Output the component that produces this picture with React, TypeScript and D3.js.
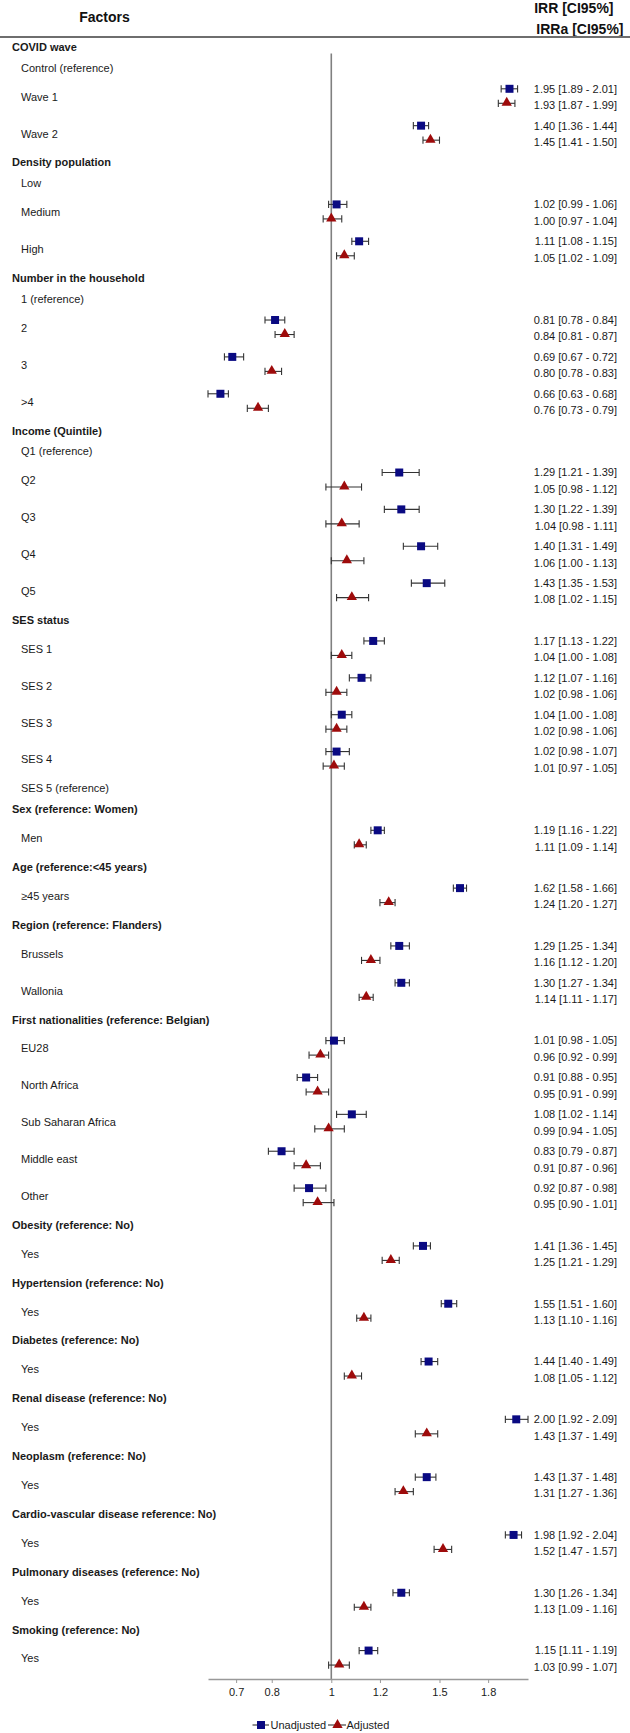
import React, { useEffect, useRef } from "react";
import * as d3 from "d3";

const rowLabels = [
  "COVID wave", "Control (reference)", "Wave 1", "Wave 2",
  "Density population", "Low", "Medium", "High",
  "Number in the household", "1 (reference)", "2", "3", ">4",
  "Income (Quintile)", "Q1 (reference)", "Q2", "Q3", "Q4", "Q5",
  "SES status", "SES 1", "SES 2", "SES 3", "SES 4", "SES 5 (reference)",
  "Sex (reference: Women)", "Men",
  "Age (reference:<45 years)", "≥45 years",
  "Region (reference: Flanders)", "Brussels", "Wallonia",
  "First nationalities (reference: Belgian)", "EU28", "North Africa", "Sub Saharan Africa", "Middle east", "Other",
  "Obesity (reference: No)", "Yes",
  "Hypertension (reference: No)", "Yes",
  "Diabetes (reference: No)", "Yes",
  "Renal disease (reference: No)", "Yes",
  "Neoplasm (reference: No)", "Yes",
  "Cardio-vascular disease reference: No)", "Yes",
  "Pulmonary diseases (reference: No)", "Yes",
  "Smoking (reference: No)", "Yes",
];

// h = heading, r = reference level (nothing plotted), d = row with estimates
const rowTypes = [
  "h", "r", "d", "d",
  "h", "r", "d", "d",
  "h", "r", "d", "d", "d",
  "h", "r", "d", "d", "d", "d",
  "h", "d", "d", "d", "d", "r",
  "h", "d",
  "h", "d",
  "h", "d", "d",
  "h", "d", "d", "d", "d", "d",
  "h", "d", "h", "d", "h", "d", "h", "d", "h", "d", "h", "d", "h", "d", "h", "d",
];

// unadjusted IRR
const irr = [1.95, 1.40, 1.02, 1.11, 0.81, 0.69, 0.66, 1.29, 1.30, 1.40, 1.43, 1.17, 1.12, 1.04, 1.02, 1.19, 1.62, 1.29, 1.30, 1.01, 0.91, 1.08, 0.83, 0.92, 1.41, 1.55, 1.44, 2.00, 1.43, 1.98, 1.30, 1.15];
const irrLo = [1.89, 1.36, 0.99, 1.08, 0.78, 0.67, 0.63, 1.21, 1.22, 1.31, 1.35, 1.13, 1.07, 1.00, 0.98, 1.16, 1.58, 1.25, 1.27, 0.98, 0.88, 1.02, 0.79, 0.87, 1.36, 1.51, 1.40, 1.92, 1.37, 1.92, 1.26, 1.11];
const irrHi = [2.01, 1.44, 1.06, 1.15, 0.84, 0.72, 0.68, 1.39, 1.39, 1.49, 1.53, 1.22, 1.16, 1.08, 1.07, 1.22, 1.66, 1.34, 1.34, 1.05, 0.95, 1.14, 0.87, 0.98, 1.45, 1.60, 1.49, 2.09, 1.48, 2.04, 1.34, 1.19];

// adjusted IRRa
const irra = [1.93, 1.45, 1.00, 1.05, 0.84, 0.80, 0.76, 1.05, 1.04, 1.06, 1.08, 1.04, 1.02, 1.02, 1.01, 1.11, 1.24, 1.16, 1.14, 0.96, 0.95, 0.99, 0.91, 0.95, 1.25, 1.13, 1.08, 1.43, 1.31, 1.52, 1.13, 1.03];
const irraLo = [1.87, 1.41, 0.97, 1.02, 0.81, 0.78, 0.73, 0.98, 0.98, 1.00, 1.02, 1.00, 0.98, 0.98, 0.97, 1.09, 1.20, 1.12, 1.11, 0.92, 0.91, 0.94, 0.87, 0.90, 1.21, 1.10, 1.05, 1.37, 1.27, 1.47, 1.09, 0.99];
const irraHi = [1.99, 1.50, 1.04, 1.09, 0.87, 0.83, 0.79, 1.12, 1.11, 1.13, 1.15, 1.08, 1.06, 1.06, 1.05, 1.14, 1.27, 1.20, 1.17, 0.99, 0.99, 1.05, 0.96, 1.01, 1.29, 1.16, 1.12, 1.49, 1.36, 1.57, 1.16, 1.07];

const ticks = [0.7, 0.8, 1, 1.2, 1.5, 1.8];
const seriesNames = ["Unadjusted", "Adjusted"];

const W = 630;
const H = 1733;
const FONT = "'Liberation Sans', Arial, Helvetica, sans-serif";
const BLUE = "#0a0a82";
const RED = "#9e0b0b";
const BAR = "#333";

function App() {
  const ref = useRef<SVGSVGElement>(null);

  useEffect(() => {
    const svg = d3.select(ref.current);
    svg.selectAll("*").remove();

    const top = 36.5, bottom = 1679;

    // row heights in units: single-line rows vs. rows with two estimates
    const units = rowTypes.map(t => (t === "d" ? 37 : 21));
    const total = d3.sum(units);
    const yScale = d3.scaleLinear().domain([0, total]).range([top, bottom - 2]);
    let acc = 0;
    const rows = rowLabels.map((label, i) => {
      const c = acc + units[i] / 2;
      acc += units[i];
      return { label, type: rowTypes[i], y: yScale(c) };
    });
    const dataRows = rows.filter(r => r.type === "d");

    const lo = d3.min([...irrLo, ...irraLo]) as number;
    const hi = d3.max([...irrHi, ...irraHi]) as number;
    const x = d3.scaleLog().domain([lo, hi]).range([208, 528]);

    const fmt = d3.format(".2f");

    // header
    svg.append("text")
      .attr("x", 104.5).attr("y", 22)
      .attr("text-anchor", "middle")
      .style("font-family", FONT).style("font-size", "14px").style("font-weight", "bold")
      .attr("fill", "#111")
      .text("Factors");
    svg.append("text")
      .attr("x", 613.5).attr("y", 13)
      .attr("text-anchor", "end")
      .style("font-family", FONT).style("font-size", "14px").style("font-weight", "bold")
      .attr("fill", "#111")
      .text("IRR [CI95%]");
    svg.append("text")
      .attr("x", 623.5).attr("y", 33.5)
      .attr("text-anchor", "end")
      .style("font-family", FONT).style("font-size", "14px").style("font-weight", "bold")
      .attr("fill", "#111")
      .text("IRRa [CI95%]");
    svg.append("line")
      .attr("x1", 0).attr("x2", W).attr("y1", 37).attr("y2", 37)
      .attr("stroke", "#6e6e6e").attr("stroke-width", 2);

    // reference line at 1
    svg.append("line")
      .attr("x1", x(1)).attr("x2", x(1)).attr("y1", 53.5).attr("y2", bottom)
      .attr("stroke", "#808080").attr("stroke-width", 1.6);

    // row labels
    svg.append("g").selectAll("text")
      .data(rows)
      .join("text")
      .attr("x", d => (d.type === "h" ? 12 : 21))
      .attr("y", d => d.y)
      .attr("dy", "0.35em")
      .style("font-family", FONT)
      .style("font-size", "11px")
      .style("font-weight", d => (d.type === "h" ? "bold" : "normal"))
      .attr("fill", "#1a1a1a")
      .text(d => d.label);

    const series = [
      { name: seriesNames[0], est: irr, lo: irrLo, hi: irrHi, off: -8, toff: -8, color: BLUE },
      { name: seriesNames[1], est: irra, lo: irraLo, hi: irraHi, off: 6.5, toff: 8.5, color: RED },
    ];

    series.forEach((s, si) => {
      const g = svg.append("g");
      const pts = dataRows.map((r, i) => ({ y: r.y + s.off, ty: r.y + s.toff, est: s.est[i], lo: s.lo[i], hi: s.hi[i] }));

      // error bars with caps
      g.selectAll("line.bar").data(pts).join("line")
        .attr("class", "bar")
        .attr("x1", d => x(d.lo)).attr("x2", d => x(d.hi))
        .attr("y1", d => d.y).attr("y2", d => d.y)
        .attr("stroke", BAR).attr("stroke-width", 1.1);
      g.selectAll("line.capl").data(pts).join("line")
        .attr("class", "capl")
        .attr("x1", d => x(d.lo)).attr("x2", d => x(d.lo))
        .attr("y1", d => d.y - 3.6).attr("y2", d => d.y + 3.6)
        .attr("stroke", BAR).attr("stroke-width", 1.1);
      g.selectAll("line.caph").data(pts).join("line")
        .attr("class", "caph")
        .attr("x1", d => x(d.hi)).attr("x2", d => x(d.hi))
        .attr("y1", d => d.y - 3.6).attr("y2", d => d.y + 3.6)
        .attr("stroke", BAR).attr("stroke-width", 1.1);

      // markers
      const sym = d3.symbol().type(si === 0 ? d3.symbolSquare : d3.symbolTriangle).size(si === 0 ? 64 : 46);
      g.selectAll("path").data(pts).join("path")
        .attr("d", sym)
        .attr("transform", d => `translate(${x(d.est)},${d.y - (si === 0 ? 0 : 0.5)})`)
        .attr("fill", s.color);

      // value text
      g.selectAll("text").data(pts).join("text")
        .attr("x", 617)
        .attr("y", d => d.ty)
        .attr("dy", "0.35em")
        .attr("text-anchor", "end")
        .style("font-family", FONT)
        .style("font-size", "11px")
        .attr("fill", "#1a1a1a")
        .text(d => `${fmt(d.est)} [${fmt(d.lo)} - ${fmt(d.hi)}]`);
    });

    // x axis
    const axis = d3.axisBottom(x)
      .tickValues(ticks)
      .tickFormat(d => String(d))
      .tickSize(4)
      .tickSizeOuter(0)
      .tickPadding(5);
    const ax = svg.append("g")
      .attr("transform", `translate(0,${bottom})`)
      .call(axis);
    ax.select(".domain").attr("stroke", "#999").attr("stroke-width", 1.3);
    ax.selectAll(".tick line").attr("stroke", "#999");
    ax.selectAll("text")
      .style("font-family", FONT)
      .style("font-size", "11px")
      .attr("fill", "#1a1a1a");

    // legend
    const ly = 1725;
    const leg = svg.append("g");
    const legItems = [
      { name: seriesNames[0], x0: 252.5, x1: 269, mx: 261, tx: 270.5, color: BLUE, type: d3.symbolSquare, size: 64 },
      { name: seriesNames[1], x0: 328, x1: 346, mx: 337.5, tx: 346.5, color: RED, type: d3.symbolTriangle, size: 46 },
    ];
    legItems.forEach(it => {
      leg.append("line")
        .attr("x1", it.x0).attr("x2", it.x1).attr("y1", ly).attr("y2", ly)
        .attr("stroke", BAR).attr("stroke-width", 1.1);
      leg.append("path")
        .attr("d", d3.symbol().type(it.type).size(it.size))
        .attr("transform", `translate(${it.mx},${ly})`)
        .attr("fill", it.color);
      leg.append("text")
        .attr("x", it.tx).attr("y", ly).attr("dy", "0.35em")
        .style("font-family", FONT).style("font-size", "11px")
        .attr("fill", "#1a1a1a")
        .text(it.name);
    });
  }, []);

  return (
    <svg
      ref={ref}
      width={W}
      height={H}
      style={{ position: "absolute", left: 0, top: 0, background: "#fff" }}
    />
  );
}

export default App;
